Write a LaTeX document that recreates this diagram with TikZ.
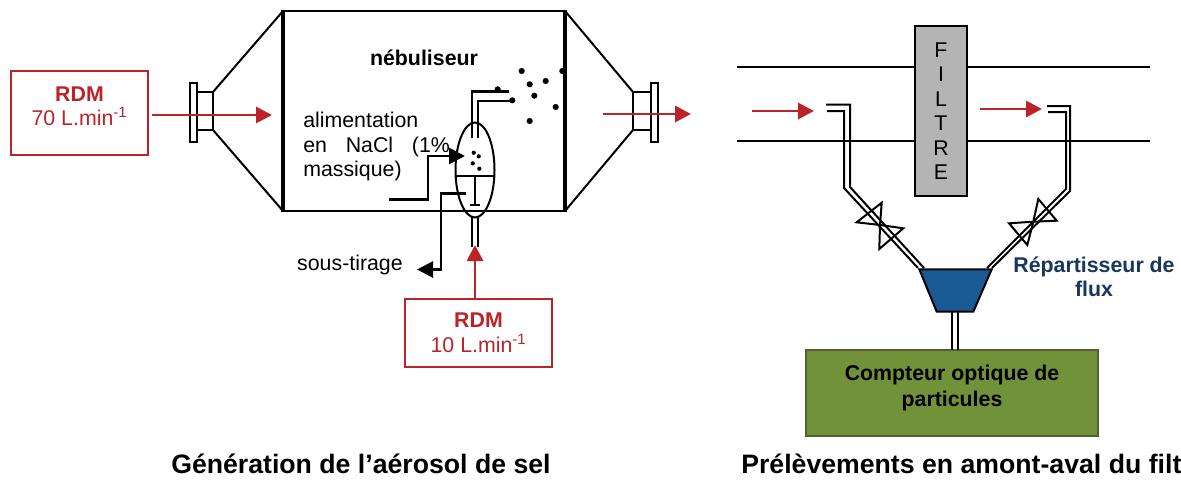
\documentclass[tikz,border=0pt]{standalone}
\usepackage{fontspec}
\setmainfont{Liberation Sans}
\usetikzlibrary{arrows.meta,calc,shapes.geometric}
\definecolor{rdmred}{HTML}{BE2229}
\definecolor{splitblue}{HTML}{1A5A94}
\definecolor{splitnavy}{HTML}{17375E}
\definecolor{countgreen}{HTML}{72923A}
\definecolor{countedge}{HTML}{4F6228}
\definecolor{filtregrey}{HTML}{B4B4B4}
\begin{document}
\begin{tikzpicture}[x=0.75pt,y=-0.75pt,
  font=\fontsize{16}{18.4}\selectfont,
  wall/.style={line width=1.5pt},
  heavy/.style={line width=2.7pt},
  rdmbox/.style={draw=rdmred, line width=1.4pt, text=rdmred, align=center, inner sep=0pt},
  rdmflow/.style={draw=rdmred, line width=2.2pt, -{Triangle[length=12pt,width=12pt]}},
  feed/.style={draw, line width=2.1pt, -{Triangle[length=12pt,width=12pt]}},
  spot/.style={circle, fill, inner sep=0pt, minimum size=#1},
  caption/.style={font=\fontsize{20}{24}\selectfont\bfseries, anchor=base west, inner sep=0pt},
]
\useasboundingbox (0,0) rectangle (1181,479);

% generation
\node[rdmbox, minimum width=102.75pt, minimum height=63pt] (rdmA) at (79.5,113) {\textbf{RDM}\\70 L.min\textsuperscript{-1}\\[-8pt]\mbox{}};
\draw[wall] (190,83) rectangle (197,142);
\draw[wall] (197,92) rectangle (213,130);
\draw[wall] (213,92) -- (283,11) (213,130) -- (283,211);
\draw[wall] (283,11) -- (565,11) (283,211) -- (565,211);
\draw[heavy] (283,10) -- (283,212) (565,10) -- (565,212);
\draw[wall] (565,11) -- (633,92) (565,211) -- (633,130);
\draw[wall] (633,92) rectangle (651,130);
\draw[wall] (651,83) rectangle (658,142);
\coordinate (inA) at (272,115);
\coordinate (outAs) at (603,114);
\coordinate (outAe) at (691,114);
\draw[rdmflow] (rdmA.east |- inA) ++(3,0) -- (inA);
\draw[rdmflow] (outAs) -- (outAe);

\node[font=\fontsize{16}{18.4}\selectfont\bfseries, inner sep=0pt] (nebu) at (424,58) {nébuliseur};
\node[anchor=north west, align=left, inner sep=0pt] (alim) at (303,112) {alimentation\\\makebox[110pt][s]{en NaCl (1\%}\\massique)};
\node[anchor=east, inner sep=0pt] (tirage) at (403,265) {sous-tirage};

\node[draw, wall, ellipse, inner sep=0pt, minimum width=29.25pt, minimum height=71.25pt] (nebel) at (475,170) {};
\draw[wall] (nebel.west) ++(0,6) -- ++(39,0);
\draw[wall] (475,176) -- (475,205) (470,205) -- (480,205);
\draw[line width=1.8pt] (472,138) -- (472,91.5) -- (509,91.5);
\draw[wall] (477.5,138) -- (477.5,100.5) -- (512,100.5);
\draw[line width=1.8pt] (472,217) -- (472,247);
\draw[wall] (478,217) -- (478,247);
\foreach \px/\py in {521.7/71,562.3/71,529.7/84.3,545.7/81,534.3/95.7,555.7/107,529.7/121,497.7/89.3,512.3/100.3}
  \node[spot=4.6pt] at (\px,\py) {};
\foreach \px/\py in {473.7/152.7,478.7/156.3,472.7/163.3,479.3/168.7}
  \node[spot=3.2pt] at (\px,\py) {};

\coordinate (feedA) at (389,199.5);
\coordinate (feedB) at (465,156);
\draw[feed] (feedA) -- (428,199.5) -- (428,156) -- (feedB);
\coordinate (drawA) at (466,193.5);
\coordinate (drawB) at (417,269.5);
\draw[feed] (drawA) -- (441,193.5) -- (441,269.5) -- (drawB);

\node[rdmbox, minimum width=110.25pt, minimum height=51pt] (rdmB) at (478.5,333) {\textbf{RDM}\\10 L.min\textsuperscript{-1}};
\coordinate (inB) at (475,245);
\draw[rdmflow] (rdmB.north -| inB) -- (inB);

% prelevements
\draw[wall] (737,67) -- (915,67) (737,141) -- (915,141);
\draw[wall] (967,67) -- (1150,67) (967,141) -- (1150,141);
\node[draw, wall, fill=filtregrey, minimum width=39pt, minimum height=127.5pt, align=center, inner sep=0pt] (filtre) at (941,111) {F\\I\\L\\T\\R\\E};
\coordinate (amontA) at (752,111);
\coordinate (amontB) at (814,111);
\coordinate (avalA) at (980,109);
\coordinate (avalB) at (1042,109);
\draw[rdmflow] (amontA) -- (amontB);
\draw[rdmflow] (avalA) -- (avalB);

\node[draw=countedge, wall, fill=countgreen, minimum width=219pt, minimum height=64pt, align=center, inner sep=0pt, font=\fontsize{16}{20}\selectfont\bfseries] (compteur) at (952,393) {Compteur optique de\\particules\\[-9pt]\mbox{}};
\draw[wall, fill=splitblue] (919.3,269.3) -- (991.7,269.3) -- (973.3,311.7) -- (936.7,311.7) -- cycle;
\draw[wall] (826,104.7) -- (850,104.7) -- (850,187) -- (924,268);
\draw[wall] (827,111) -- (844,111) -- (844,188) -- (918,268);
\draw[wall] (1047,106) -- (1070,106) -- (1070,191) -- (992,268);
\draw[wall] (1048,112) -- (1066,112) -- (1066,189) -- (987,268);
\draw[wall] (951.7,312) -- (951.7,350) (957.7,312) -- (957.7,350);
\draw[wall] (880,225) -- (881.7,202.7) -- (856.7,222.3) -- cycle;
\draw[wall] (880,225) -- (903.3,228.3) -- (879.3,249) -- cycle;
\draw[wall] (1033.3,221.7) -- (1038.3,199) -- (1056.7,220.7) -- cycle;
\draw[wall] (1033.3,221.7) -- (1009,223.3) -- (1027.3,245) -- cycle;
\node[text=splitnavy, align=center, inner sep=0pt, font=\fontsize{16}{18.4}\selectfont\bfseries] (repart) at (1094,277) {Répartisseur de\\flux};

\node[caption] (capA) at (171,473) {Génération de l’aérosol de sel};
\node[caption] (capB) at (741,473) {Prélèvements en amont-aval du filt};
\end{tikzpicture}
\end{document}
